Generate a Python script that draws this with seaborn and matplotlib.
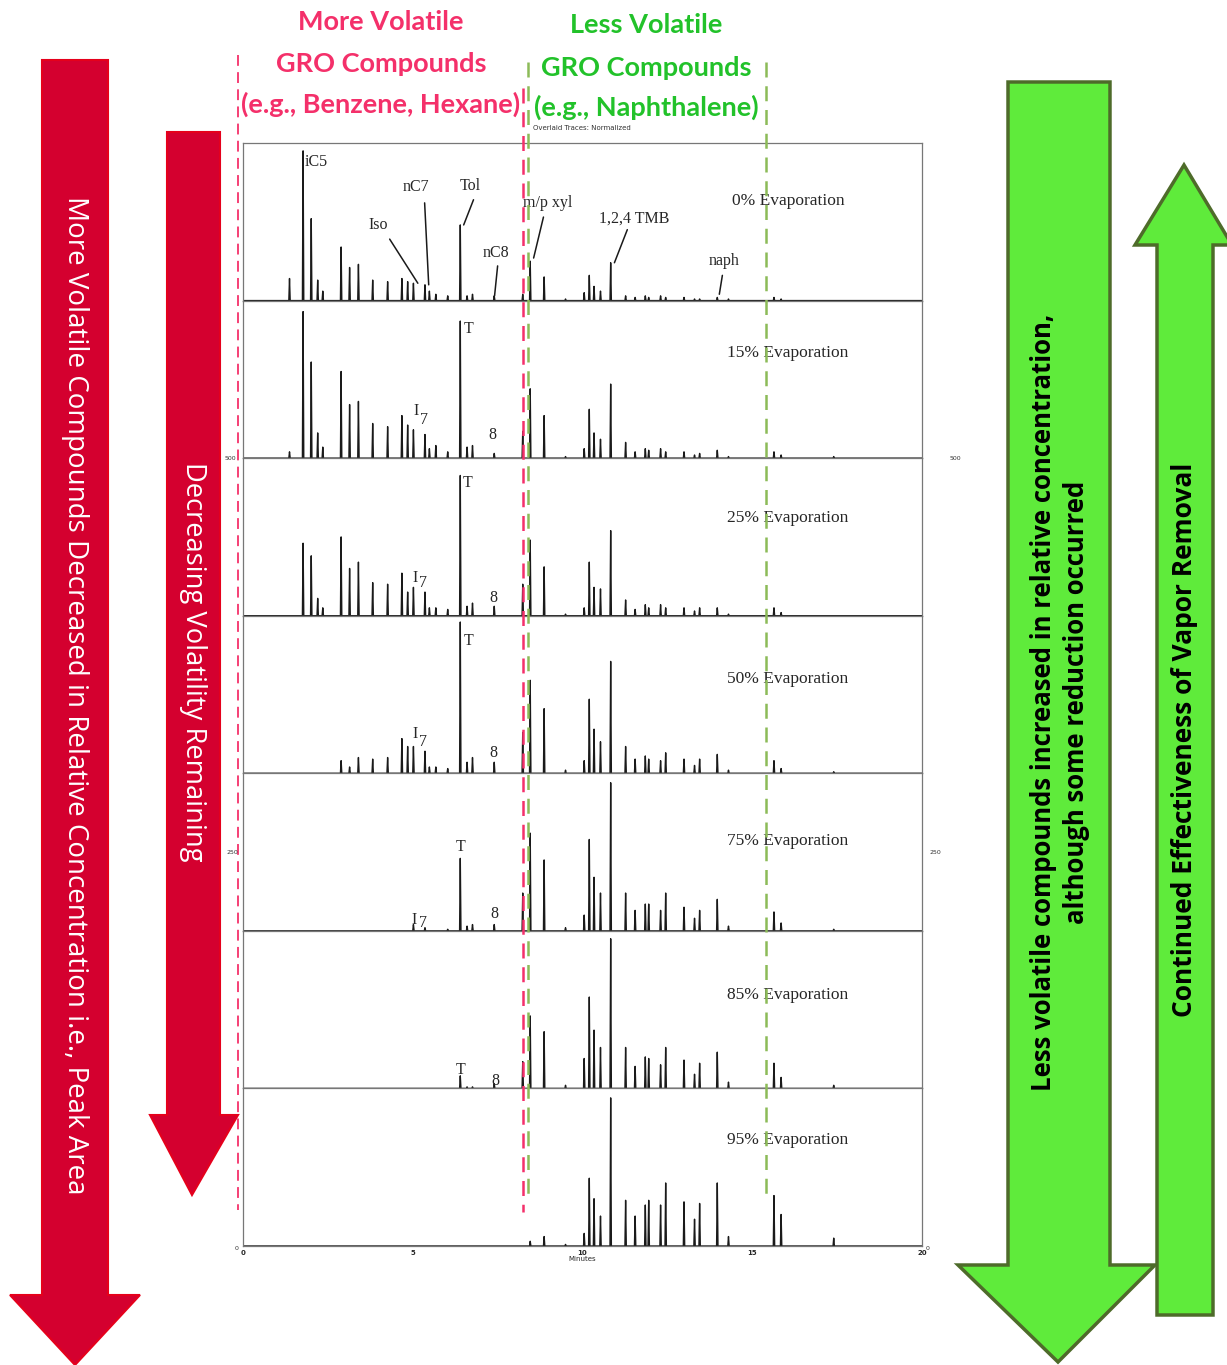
import numpy as np
import pandas as pd
import matplotlib.pyplot as plt
from matplotlib.patches import Polygon
import seaborn as sns

sns.set_theme(style="white")
plt.rcParams['font.family'] = ['DejaVu Sans']

# Retention times (minutes) of the peaks
RT = [1.37, 1.77, 2.01, 2.2, 2.35, 2.89, 3.14, 3.4, 3.82, 4.26, 4.68, 4.85, 5.02, 5.36, 5.49,
      5.68, 6.03, 6.4, 6.6, 6.76, 7.4, 8.24, 8.46, 8.87, 9.5, 10.05, 10.2, 10.34, 10.53, 10.83,
      11.27, 11.55, 11.85, 11.95, 12.3, 12.45, 12.99, 13.3, 13.45, 13.97, 14.3, 15.64, 15.85, 17.4]

# Normalized peak heights (fraction of panel height) for each evaporation level
h_00 = [0.14, 0.95, 0.52, 0.13, 0.06, 0.34, 0.21, 0.23, 0.13, 0.12, 0.14, 0.12, 0.11, 0.10, 0.06,
        0.04, 0.03, 0.48, 0.03, 0.04, 0.03, 0.04, 0.25, 0.15, 0.01, 0.05, 0.16, 0.09, 0.06, 0.24,
        0.03, 0.02, 0.03, 0.02, 0.03, 0.02, 0.02, 0.01, 0.01, 0.02, 0.01, 0.02, 0.01, 0.0]
h_15 = [0.04, 0.93, 0.61, 0.16, 0.07, 0.55, 0.34, 0.36, 0.22, 0.20, 0.27, 0.21, 0.18, 0.15, 0.06,
        0.08, 0.04, 0.87, 0.07, 0.08, 0.03, 0.17, 0.44, 0.27, 0.01, 0.06, 0.31, 0.16, 0.12, 0.47,
        0.10, 0.04, 0.06, 0.05, 0.06, 0.04, 0.04, 0.02, 0.03, 0.05, 0.01, 0.04, 0.02, 0.01]
h_25 = [0.0, 0.46, 0.38, 0.11, 0.05, 0.50, 0.30, 0.34, 0.21, 0.20, 0.27, 0.15, 0.18, 0.15, 0.05,
        0.05, 0.04, 0.89, 0.06, 0.08, 0.06, 0.20, 0.48, 0.31, 0.01, 0.05, 0.34, 0.18, 0.17, 0.54,
        0.10, 0.04, 0.07, 0.05, 0.07, 0.05, 0.05, 0.03, 0.05, 0.05, 0.01, 0.05, 0.02, 0.0]
h_50 = [0.0, 0.0, 0.0, 0.0, 0.0, 0.08, 0.04, 0.10, 0.09, 0.10, 0.22, 0.17, 0.17, 0.14, 0.04,
        0.04, 0.03, 0.96, 0.07, 0.10, 0.07, 0.26, 0.59, 0.41, 0.02, 0.08, 0.47, 0.28, 0.20, 0.71,
        0.17, 0.09, 0.11, 0.09, 0.08, 0.13, 0.09, 0.05, 0.09, 0.12, 0.02, 0.08, 0.03, 0.01]
h_75 = [0.0, 0.0, 0.0, 0.0, 0.0, 0.0, 0.0, 0.0, 0.0, 0.0, 0.0, 0.0, 0.04, 0.02, 0.0,
        0.0, 0.01, 0.46, 0.03, 0.04, 0.04, 0.24, 0.62, 0.45, 0.02, 0.10, 0.58, 0.34, 0.24, 0.94,
        0.24, 0.13, 0.17, 0.17, 0.13, 0.24, 0.15, 0.08, 0.13, 0.20, 0.03, 0.12, 0.05, 0.01]
h_85 = [0.0, 0.0, 0.0, 0.0, 0.0, 0.0, 0.0, 0.0, 0.0, 0.0, 0.0, 0.0, 0.0, 0.0, 0.0,
        0.0, 0.0, 0.08, 0.01, 0.01, 0.03, 0.17, 0.46, 0.36, 0.02, 0.19, 0.58, 0.37, 0.26, 0.95,
        0.26, 0.14, 0.20, 0.19, 0.15, 0.26, 0.18, 0.09, 0.16, 0.23, 0.04, 0.16, 0.07, 0.02]
h_95 = [0.0, 0.0, 0.0, 0.0, 0.0, 0.0, 0.0, 0.0, 0.0, 0.0, 0.0, 0.0, 0.0, 0.0, 0.0,
        0.0, 0.0, 0.0, 0.0, 0.0, 0.0, 0.0, 0.03, 0.06, 0.01, 0.08, 0.43, 0.30, 0.19, 0.94,
        0.29, 0.19, 0.26, 0.29, 0.26, 0.40, 0.28, 0.17, 0.27, 0.40, 0.06, 0.32, 0.20, 0.05]

panel_names = ['0% Evaporation', '15% Evaporation', '25% Evaporation', '50% Evaporation',
               '75% Evaporation', '85% Evaporation', '95% Evaporation']
panel_heights = [h_00, h_15, h_25, h_50, h_75, h_85, h_95]
label_y = [0.63, 0.67, 0.62, 0.60, 0.57, 0.59, 0.67]

# peak annotations: (panel index, text, x, y)
peak_labels = [
    (0, 'iC5', 1.82, 0.88), (0, 'Iso', 3.97, 0.48), (0, 'nC7', 5.09, 0.72),
    (0, 'Tol', 6.70, 0.73), (0, 'nC8', 7.44, 0.30), (0, 'm/p xyl', 8.97, 0.62),
    (0, '1,2,4 TMB', 11.53, 0.52), (0, 'naph', 14.18, 0.25),
    (1, 'T', 6.65, 0.82), (1, 'I', 5.09, 0.30), (1, '7', 5.32, 0.24), (1, '8', 7.35, 0.15),
    (2, 'T', 6.62, 0.84), (2, 'I', 5.07, 0.24), (2, '7', 5.30, 0.21), (2, '8', 7.38, 0.11),
    (3, 'T', 6.65, 0.84), (3, 'I', 5.07, 0.25), (3, '7', 5.30, 0.20), (3, '8', 7.38, 0.13),
    (4, 'T', 6.41, 0.53), (4, 'I', 5.05, 0.07), (4, '7', 5.30, 0.05), (4, '8', 7.40, 0.11),
    (5, 'T', 6.41, 0.12), (5, '8', 7.42, 0.05),
]
# leader lines in the top panel: (x0, y0, x1, y1)
leaders = [(4.32, 0.39, 5.15, 0.11), (5.35, 0.62, 5.47, 0.10), (6.79, 0.64, 6.50, 0.48),
           (7.50, 0.22, 7.41, 0.03), (8.85, 0.53, 8.56, 0.27), (11.32, 0.45, 10.94, 0.24),
           (14.12, 0.16, 14.03, 0.04)]

rows = []
for name, hs in zip(panel_names, panel_heights):
    rows.append((name, 0.0, 0.0))
    for rt, h in zip(RT, hs):
        rows += [(name, rt - 0.02, 0.0), (name, rt, h), (name, rt + 0.02, 0.0)]
    rows.append((name, 20.0, 0.0))
df = pd.DataFrame(rows, columns=['panel', 'minutes', 'signal'])

W, H = 1227, 1365
fig = plt.figure(figsize=(W / 100, H / 100), dpi=100)
fig.patch.set_facecolor('white')

ax_left, ax_right, ax_top, ax_bot = 243, 922, 143, 1246
ph = (ax_bot - ax_top) / 7
serif = 'Liberation Serif'

for i, name in enumerate(panel_names):
    top = ax_top + i * ph
    ax = fig.add_axes([ax_left / W, 1 - (top + ph) / H, (ax_right - ax_left) / W, ph / H])
    sns.lineplot(data=df[df.panel == name], x='minutes', y='signal', sort=False,
                 estimator=None, color='#1a1a1a', lw=1.0, ax=ax)
    ax.set_xlim(0, 20)
    ax.set_ylim(0, 1.0)
    ax.set_yticks([])
    ax.set_ylabel('')
    for s in ax.spines.values():
        s.set_color('#777777')
        s.set_linewidth(0.9)
    ax.text(16.05, label_y[i], name, family=serif, fontsize=12.5, ha='center', va='center')
    for p, txt, x, y in peak_labels:
        if p == i:
            ha = 'left' if txt == 'iC5' else 'center'
            ax.text(x, y, txt, family=serif, fontsize=11.5, ha=ha, va='center')
    if i == 0:
        for x0, y0, x1, y1 in leaders:
            ax.plot([x0, x1], [y0, y1], color='#1a1a1a', lw=1.1)
    if i == 6:
        ax.set_xticks([0, 5, 10, 15, 20])
        ax.set_xticklabels(['0', '5', '10', '15', '20'], fontsize=5, fontweight='bold')
        ax.tick_params(axis='x', length=2, pad=1)
        ax.set_xlabel('Minutes', fontsize=5, labelpad=0)
    else:
        ax.set_xticks([])
        ax.set_xlabel('')

# overlay for arrows, headings and dashed guides
ov = fig.add_axes([0, 0, 1, 1])
ov.set_xlim(0, W)
ov.set_ylim(H, 0)
ov.axis('off')
ov.patch.set_alpha(0)

red_fill, red_edge = '#D4002F', '#E5001C'
green_fill, green_edge = '#5FEB3B', '#4E6B2A'
pink, green_txt = '#F4306A', '#22C22A'

ov.add_patch(Polygon([(42, 60), (108, 60), (108, 1295), (140, 1295), (75, 1365), (10, 1295), (42, 1295)],
                     closed=True, fc=red_fill, ec=red_edge, lw=1.5))
ov.add_patch(Polygon([(167, 132), (220, 132), (220, 1115), (238, 1115), (192, 1195), (150, 1115), (167, 1115)],
                     closed=True, fc=red_fill, ec=red_edge, lw=1.5))
ov.add_patch(Polygon([(1008, 82), (1110, 82), (1110, 1265), (1155, 1265), (1058, 1362), (958, 1265), (1008, 1265)],
                     closed=True, fc=green_fill, ec=green_edge, lw=2.5))
ov.add_patch(Polygon([(1157, 1315), (1213, 1315), (1213, 245), (1232, 245), (1184, 165), (1135, 245), (1157, 245)],
                     closed=True, fc=green_fill, ec=green_edge, lw=2.5))

sans = 'Open Sans'
ov.text(75, 695, 'More Volatile Compounds Decreased in Relative Concentration i.e., Peak Area',
        rotation=-90, color='white', fontsize=20, family=sans, ha='center', va='center')
ov.text(193, 662, 'Decreasing Volatility Remaining', rotation=-90, color='white',
        fontsize=19.7, family=sans, ha='center', va='center')
ov.text(1060, 702, 'Less volatile compounds increased in relative concentration,\nalthough some reduction occurred',
        rotation=90, color='black', fontsize=18.5, family=sans, fontweight='bold',
        ha='center', va='center', linespacing=1.3)
ov.text(1185, 740, 'Continued Effectiveness of Vapor Removal', rotation=90, color='black',
        fontsize=19, family=sans, fontweight='bold', ha='center', va='center')

head = 'Lato'
for txt, y in [('More Volatile', 22), ('GRO Compounds', 64), ('(e.g., Benzene, Hexane)', 104)]:
    ov.text(381, y, txt, color=pink, fontsize=19.5, family=head, fontweight='bold',
            ha='center', va='center')
for txt, y in [('Less Volatile', 25), ('GRO Compounds', 68), ('(e.g., Naphthalene)', 107)]:
    ov.text(646, y, txt, color=green_txt, fontsize=19.5, family=head, fontweight='bold',
            ha='center', va='center')

ov.text(582, 128, 'Overlaid Traces: Normalized', fontsize=5, ha='center', va='center', color='#333')
for txt, x, y in [('500', 230, 458), ('500', 955, 458), ('250', 232, 852), ('250', 935, 852),
                  ('0', 237, 1248), ('0', 928, 1248)]:
    ov.text(x, y, txt, fontsize=4.5, ha='center', va='center', color='#333')

dash = (0, (6, 3.5))
ov.plot([238, 238], [55, 1210], color=pink, lw=1.3, ls=dash)
ov.plot([523, 523], [88, 1212], color=pink, lw=1.8, ls=dash)
ov.plot([527.5, 527.5], [62, 1195], color='#8CBB58', lw=1.8, ls=dash)
ov.plot([766, 766], [62, 1195], color='#8CBB58', lw=1.8, ls=dash)

fig.savefig('out.png', dpi=100)
